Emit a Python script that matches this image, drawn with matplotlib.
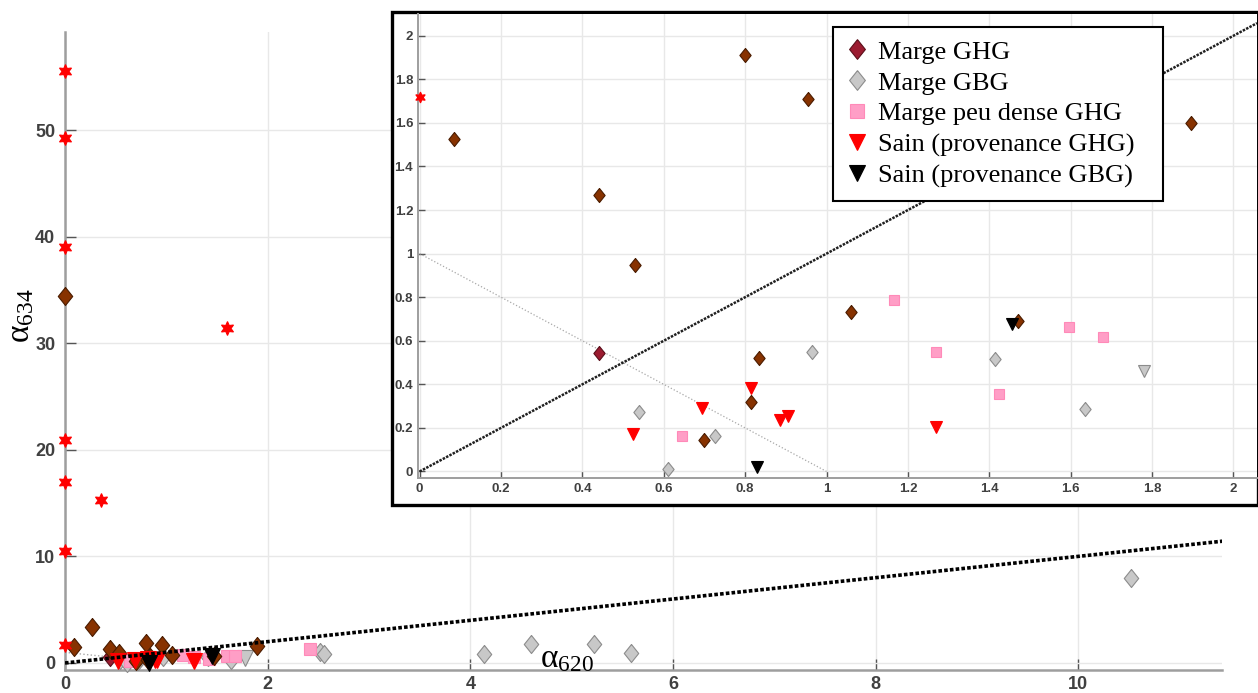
import numpy as np
import matplotlib.pyplot as plt
from matplotlib.patches import Rectangle

plt.rcParams['mathtext.fontset'] = 'custom'
plt.rcParams['mathtext.rm'] = 'Liberation Serif'
plt.rcParams['mathtext.it'] = 'Liberation Serif:italic'

# data (alpha620, alpha634)
ghg_x = [0.00, 0.085, 0.27, 0.44, 0.53, 0.70, 0.815, 0.835, 0.80, 0.955, 1.06, 1.47, 1.895]
ghg_y = [34.4, 1.525, 3.4, 1.27, 0.95, 0.145, 0.32, 0.52, 1.91, 1.71, 0.73, 0.69, 1.60]

ghg_key_x = [0.44]
ghg_key_y = [0.545]

gbg_x = [0.54, 0.61, 0.725, 0.965, 1.415, 1.635, 2.52, 2.56, 4.14, 4.60, 5.22, 5.59, 10.52]
gbg_y = [0.275, 0.01, 0.165, 0.55, 0.515, 0.285, 1.00, 0.85, 0.80, 1.75, 1.75, 0.95, 7.97]

gbg_tri_x = [1.78]
gbg_tri_y = [0.46]

peu_x = [0.645, 1.165, 1.27, 1.425, 1.595, 1.68, 2.42]
peu_y = [0.165, 0.785, 0.55, 0.355, 0.665, 0.615, 1.30]

sain_ghg_x = [0.525, 0.695, 0.815, 0.885, 0.905, 1.27]
sain_ghg_y = [0.17, 0.29, 0.385, 0.235, 0.255, 0.205]

sain_gbg_x = [0.83, 1.455]
sain_gbg_y = [0.02, 0.675]

star_x = [0, 0, 0, 0, 0, 0, 0, 0.36, 1.60]
star_y = [55.5, 49.3, 39.0, 20.9, 17.0, 10.5, 1.72, 15.3, 31.4]

diag_x = [0, 11.5]
anti_x = [0, 1]
anti_y = [1, 0]

labels = ['Marge GHG', 'Marge GBG', 'Marge peu dense GHG',
          'Sain (provenance GHG)', 'Sain (provenance GBG)']

diamond = [(0, 1), (0.8, 0), (0, -1), (-0.8, 0), (0, 1)]
hexagram = (6, 1, 0)

W, H = 1258, 693
fig = plt.figure(figsize=(W / 100, H / 100), dpi=100)

tick_col = '#404040'
spine_col = '#9E9E9E'
grid_col = '#E8E8E8'


def draw(ax, scale, lim=None):
    def keep(x, y):
        x = np.asarray(x, float)
        y = np.asarray(y, float)
        if lim is None:
            return x, y
        m = (x <= lim[0]) & (y <= lim[1])
        return x[m], y[m]

    specs = [
        (gbg_x, gbg_y, diamond, 13, '#C8C8C8', '#8C8C8C'),
        (gbg_tri_x, gbg_tri_y, 'v', 11, '#C8C8C8', '#8C8C8C'),
        (peu_x, peu_y, 's', 9, '#FF9EC6', '#FF8AB8'),
        (ghg_key_x, ghg_key_y, diamond, 13, '#9B1B30', '#5A0F1A'),
        (ghg_x, ghg_y, diamond, 13, '#873200', '#4A1C00'),
        (sain_ghg_x, sain_ghg_y, 'v', 11, '#FF0000', '#FF0000'),
        (sain_gbg_x, sain_gbg_y, 'v', 11, '#000000', '#000000'),
        (star_x, star_y, hexagram, 10, '#FF0000', '#FF0000'),
    ]
    out = []
    for x, y, mk, ms, fc, ec in specs:
        xs, ys = keep(x, y)
        ln, = ax.plot(xs, ys, ls='none', marker=mk, ms=ms * scale, mfc=fc,
                      mec=ec, mew=0.8, clip_on=False, zorder=3)
        out.append(ln)
    return out


def style(ax, fs, pad, ticklen, lw):
    for s in ['top', 'right']:
        ax.spines[s].set_visible(False)
    for s in ['left', 'bottom']:
        ax.spines[s].set_color(spine_col)
        ax.spines[s].set_linewidth(lw)
    ax.grid(True, color=grid_col, lw=1)
    ax.set_axisbelow(True)
    ax.tick_params(direction='in', length=ticklen, width=1, color='#555555',
                   labelcolor=tick_col, pad=pad)
    for t in ax.get_xticklabels() + ax.get_yticklabels():
        t.set_fontfamily('Liberation Sans')
        t.set_fontweight('bold')
        t.set_fontsize(fs)


# main axes
ax = fig.add_axes([65 / W, 1 - 670 / H, (1222 - 65) / W, (670 - 32) / H])
ax.set_xlim(0, 11.42)
ax.set_ylim(-0.66, 59.2)
ax.set_xticks([0, 2, 4, 6, 8, 10])
ax.set_yticks([0, 10, 20, 30, 40, 50])
draw(ax, 1.0)
ax.plot(diag_x, diag_x, ls=(0, (1.0, 0.6)), color='black', lw=2.6, zorder=4)
ax.plot(anti_x, anti_y, ls=':', color='#A8A8A8', lw=1.0, zorder=2)
style(ax, 13, 7, 8, 1.8)
ax.tick_params(axis='x', pad=4)
ax.text(0.434, 0.004, r'$\mathrm{α}_{\mathrm{620}}$', transform=ax.transAxes,
        ha='center', va='baseline', fontsize=24, zorder=5)
fig.text(20 / W, 1 - 316 / H, r'$\mathrm{α}_{\mathrm{634}}$', rotation=90,
         ha='center', va='center', fontsize=24)

# frame around the inset
frame = Rectangle((392 / W, 1 - 505 / H), (1257.5 - 392) / W, (505 - 12) / H,
                  transform=fig.transFigure, facecolor='white',
                  edgecolor='black', lw=2.4, zorder=1)
fig.patches.append(frame)

# inset
axin = fig.add_axes([418 / W, 1 - 478 / H, (1257 - 418) / W, (478 - 14) / H])
axin.set_zorder(2)
axin.set_xlim(-0.004, 2.058)
axin.set_ylim(-0.03, 2.10)
ticks = np.round(np.arange(0, 2.01, 0.2), 1)
axin.set_xticks(ticks)
axin.set_yticks(ticks)
axin.set_xticklabels(['%g' % t for t in ticks])
axin.set_yticklabels(['%g' % t for t in ticks])
handles = draw(axin, 0.78, lim=(2.06, 2.1))
axin.plot([0, 2.058], [0, 2.058], ls=(0, (1.0, 0.5)), color='#202020',
          lw=1.8, zorder=4)
axin.plot(anti_x, anti_y, ls=':', color='#A8A8A8', lw=0.9, zorder=2)
style(axin, 9.5, 3.5, 5, 1.4)

leg = axin.legend([handles[3], handles[0], handles[2], handles[5], handles[6]],
                  labels, loc='upper left',
                  bbox_to_anchor=(833 / W, 1 - 27 / H, (1163 - 833) / W, 0),
                  bbox_transform=fig.transFigure, mode='expand',
                  prop=dict(family='Liberation Serif', size=19),
                  frameon=True, fancybox=False, framealpha=1,
                  edgecolor='black', borderaxespad=0, handlelength=0.8,
                  handletextpad=0.4, labelspacing=0.28, borderpad=0.5,
                  markerscale=1.4)
leg.get_frame().set_linewidth(1.5)
leg.set_zorder(6)

fig.savefig('out.png', dpi=100)
